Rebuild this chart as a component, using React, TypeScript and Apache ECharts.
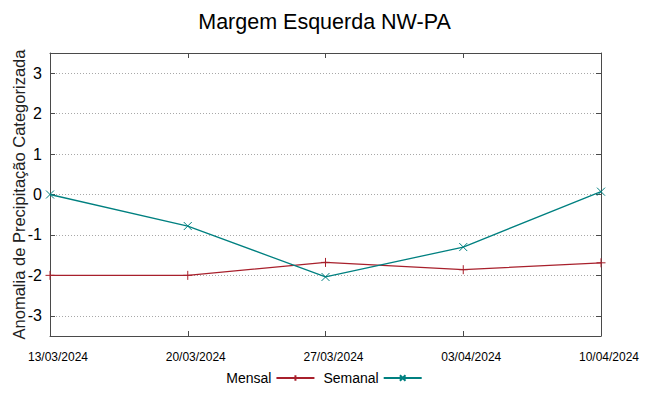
import React, { useEffect, useRef } from "react";
import * as echarts from "echarts";

const categories = ["13/03/2024", "20/03/2024", "27/03/2024", "03/04/2024", "10/04/2024"];
const mensal = [-2.0, -2.0, -1.68, -1.86, -1.69];
const semanal = [0.0, -0.78, -2.04, -1.3, 0.07];
const seriesNames = ["Mensal", "Semanal"];
const titleText = "Margem Esquerda NW-PA";
const yName = "Anomalia de Precipitação Categorizada";

const RED = "#a8202c";
const TEAL = "#008080";
const AXIS = "#4a4a4a";

const plusSym = "path://M0,-5L0,5M-5,0L5,0";
const crossSym = "path://M-5,-5L5,5M-5,5L5,-5";

export default function App() {
  const ref = useRef<HTMLDivElement>(null);
  useEffect(() => {
    document.body.style.margin = "0";
    const chart = echarts.init(ref.current!, null, { renderer: "svg" });
    const font = "'Liberation Sans', Arial, sans-serif";
    const yLabelFmt = (v: number) => (Math.abs(v - Math.round(v)) < 1e-9 ? String(Math.round(v)) : "");
    chart.setOption({
      animation: false,
      backgroundColor: "#ffffff",
      title: {
        text: titleText,
        left: "center",
        top: 6,
        textStyle: { fontFamily: font, fontSize: 21.5, fontWeight: "normal", color: "#000" },
      },
      legend: {
        bottom: 6,
        left: "center",
        align: "right",
        itemWidth: 38,
        itemHeight: 7,
        itemGap: 8,
        textStyle: { fontFamily: font, fontSize: 14, color: "#000" },
        data: seriesNames,
      },
      grid: { left: 50, right: 48, top: 53, bottom: 60, containLabel: false, outerBoundsMode: "none" },
      xAxis: [
        {
          type: "category",
          data: categories,
          boundaryGap: false,
          position: "bottom",
          axisLine: { onZero: false, lineStyle: { color: AXIS, width: 1 } },
          axisTick: { inside: true, length: 5, lineStyle: { color: AXIS } },
          axisLabel: {
            margin: 15,
            padding: [0, 0, 0, 16],
            fontFamily: font,
            fontSize: 12,
            color: "#000",
            interval: 0,
          },
          splitLine: { show: false },
        },
        {
          type: "category",
          data: categories,
          boundaryGap: false,
          position: "top",
          axisLine: { show: true, onZero: false, lineStyle: { color: AXIS, width: 1 } },
          axisTick: { inside: true, length: 5, lineStyle: { color: AXIS } },
          axisLabel: { show: false },
          splitLine: { show: false },
        },
      ],
      yAxis: [
        {
          type: "value",
          min: -3.5,
          max: 3.5,
          splitNumber: 7,
          position: "left",
          name: yName,
          nameLocation: "middle",
          nameRotate: 90,
          nameGap: 23,
          nameMoveOverlap: false,
          nameTextStyle: { fontFamily: font, fontSize: 16.5, color: "#222" },
          axisLine: { show: true, onZero: false, lineStyle: { color: AXIS, width: 1 } },
          axisTick: { show: true, inside: true, length: 5, lineStyle: { color: AXIS } },
          axisLabel: { margin: 8, fontFamily: font, fontSize: 16, color: "#000", formatter: yLabelFmt },
          splitLine: { show: true, lineStyle: { color: "#a8a8a8", type: [1, 2], width: 1 } },
        },
        {
          type: "value",
          min: -3.5,
          max: 3.5,
          splitNumber: 7,
          position: "right",
          axisLine: { show: true, onZero: false, lineStyle: { color: AXIS, width: 1 } },
          axisTick: { show: true, inside: true, length: 5, lineStyle: { color: AXIS } },
          axisLabel: { show: false },
          splitLine: { show: false },
        },
      ],
      series: [
        {
          name: seriesNames[0],
          type: "line",
          data: mensal,
          xAxisIndex: 0,
          yAxisIndex: 0,
          symbol: plusSym,
          symbolSize: 9,
          showAllSymbol: true,
          lineStyle: { color: RED, width: 1.3 },
          itemStyle: { color: "none", borderColor: RED, borderWidth: 1 },
          z: 3,
        },
        {
          name: seriesNames[1],
          type: "line",
          data: semanal,
          xAxisIndex: 0,
          yAxisIndex: 0,
          symbol: crossSym,
          symbolSize: 8,
          showAllSymbol: true,
          lineStyle: { color: TEAL, width: 1.3 },
          itemStyle: { color: "none", borderColor: TEAL, borderWidth: 1 },
          z: 4,
        },
      ],
    });
    return () => chart.dispose();
  }, []);
  return <div ref={ref} style={{ position: "absolute", left: 0, top: 0, width: 649, height: 396 }} />;
}
